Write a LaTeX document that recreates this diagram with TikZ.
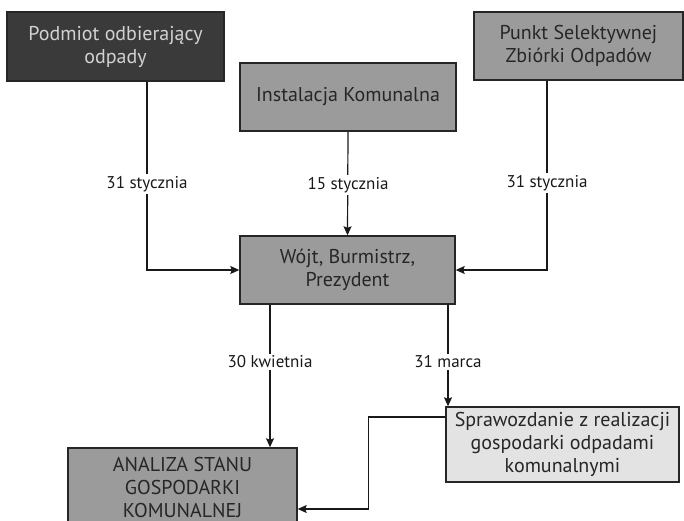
\documentclass[tikz,border=0pt]{standalone}
\usepackage{fontspec}
\setmainfont{PT Sans}
\usetikzlibrary{arrows.meta,calc}
\definecolor{darkbox}{HTML}{3A3A3A}
\definecolor{darktext}{HTML}{D2D2D2}
\definecolor{midbox}{HTML}{9B9B9B}
\definecolor{lightbox}{HTML}{E3E3E3}
\definecolor{edge}{HTML}{262626}
\tikzset{
  box/.style={draw=edge, line width=1.4pt, rectangle, align=center, inner sep=0pt,
    font=\fontsize{20}{23}\selectfont, text=black!85},
  graybox/.style={box, fill=midbox},
  datelabel/.style={fill=white, inner sep=2pt, font=\fontsize{17}{19}\selectfont, text=black!90},
  arr/.style={draw=black!90, line width=1.2pt, -{Stealth[length=9pt,width=8pt,inset=1.5pt]}},
}
\begin{document}
\begin{tikzpicture}[x=1pt,y=-1pt]
\useasboundingbox (0,0) rectangle (684,521);
\clip (0,0) rectangle (684,521);
\fill[white] (0,0) rectangle (684,521);

% source boxes
\node[box, fill=darkbox, text=darktext, minimum width=217pt, minimum height=69pt]
  (A) at (115.5,46.5) {Podmiot odbierający\\odpady};
\node[graybox, minimum width=216pt, minimum height=68pt]
  (B) at (348,97) {Instalacja Komunalna};
\node[graybox, minimum width=209pt, minimum height=68pt]
  (C) at (578.5,46) {Punkt Selektywnej\\Zbiórki Odpadów};

% central authority
\node[graybox, minimum width=215pt, minimum height=68pt]
  (D) at (347.5,270) {Wójt, Burmistrz,\\Prezydent};

% outputs
\node[box, fill=lightbox, minimum width=233pt, minimum height=75pt]
  (E) at (562.5,444.5) {Sprawozdanie z realizacji\\gospodarki odpadami\\komunalnymi};
\node[graybox, minimum width=229pt, minimum height=78pt]
  (F) at (182.5,487) {ANALIZA STANU\\GOSPODARKI\\KOMUNALNEJ};

% reporting deadlines into the authority
\draw[arr] ([xshift=31.5pt]A.south) |- (D.west);
\draw[arr] (B.south) -- (D.north);
\draw[arr] ([xshift=-31.5pt]C.south) |- (D.east);
\node[datelabel] (l1) at (147,184) {31 stycznia};
\node[datelabel] (l2) at (348,185) {15 stycznia};
\node[datelabel] (l3) at (547,183) {31 stycznia};

% deadlines out of the authority
\draw[arr] ([xshift=-77.5pt]D.south) -- ([xshift=-77.5pt]D.south |- F.north);
\draw[arr] ([xshift=100.5pt]D.south) -- ([xshift=100.5pt]D.south |- E.north);
\node[datelabel] (l4) at (270,362) {30 kwietnia};
\node[datelabel] (l5) at (448,362) {31 marca};

% report feeding the analysis
\draw[arr] ($(E.west)+(0,-27.5)$) -- ++(-77,0) |- ($(F.east)+(0,22)$);
\end{tikzpicture}
\end{document}
